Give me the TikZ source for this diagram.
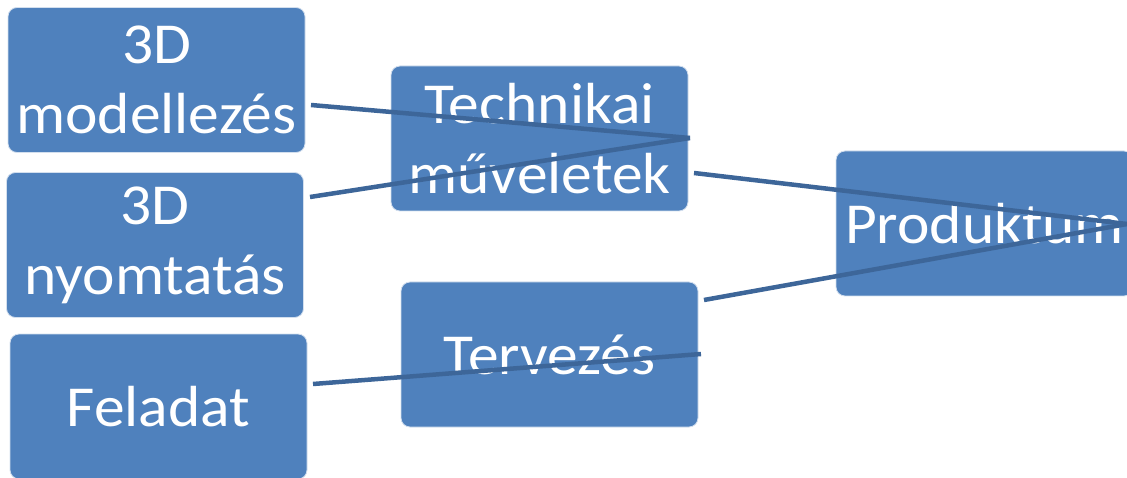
\documentclass[tikz,border=0pt]{standalone}
\usepackage{fontspec}
\setmainfont{Carlito}[FakeStretch=1.06]
\definecolor{boxblue}{HTML}{4F81BD}
\definecolor{linkblue}{HTML}{3D6699}
\begin{document}
\begin{tikzpicture}[x=1pt,y=-1pt,
  box/.style={draw=white!75!boxblue, line width=0.8pt, fill=boxblue, rounded corners=9pt,
    text=white, align=center, font=\fontsize{58}{70}\selectfont, inner sep=0pt,
    minimum width=297pt, minimum height=145pt},
  link/.style={draw=linkblue, line width=4.5pt}]
\useasboundingbox (0,0) rectangle (1127,478);
\clip (0,0) rectangle (1127,478);
\node[box] (mod) at (156.5,80) {3D\\modellezés};
\node[box] (nyom) at (155,245) {3D\\nyomtatás};
\node[box] (fel) at (158.5,406.5) {Feladat};
\node[box] (tech) at (539.5,138.5) {Technikai\\műveletek};
\node[box] (terv) at (549.5,354.5) {Tervezés};
\node[box] (prod) at (984.5,223.5) {Produktum};
\coordinate (a1) at (311,105);
\coordinate (a2) at (310,197);
\coordinate (t1) at (690,138);
\coordinate (b1) at (694,173);
\coordinate (b2) at (704,300);
\coordinate (p1) at (1127,224);
\coordinate (c1) at (313,384);
\coordinate (c2) at (701,354);
\draw[link] (a1) -- (t1);
\draw[link] (a2) -- (t1);
\draw[link] (b1) -- (p1);
\draw[link] (b2) -- (p1);
\draw[link] (c1) -- (c2);
\end{tikzpicture}
\end{document}
